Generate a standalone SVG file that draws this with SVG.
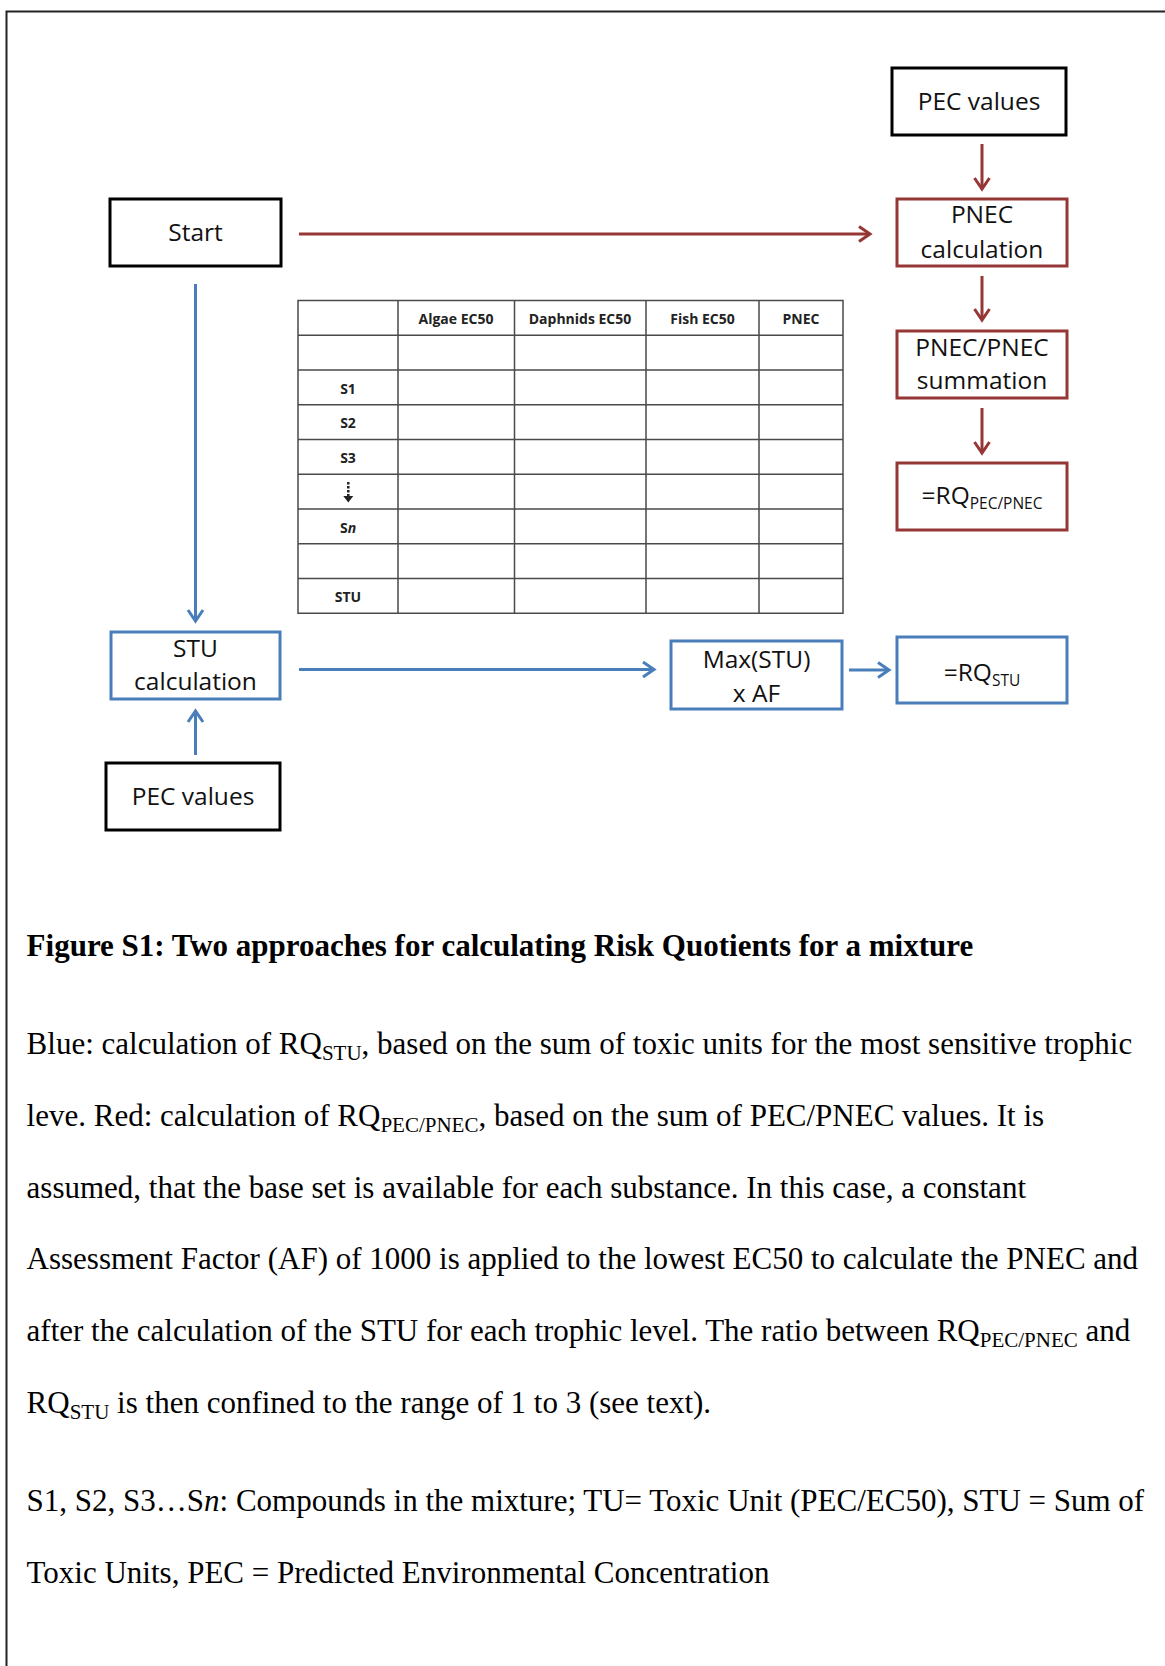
<svg xmlns="http://www.w3.org/2000/svg" width="1165" height="1666" viewBox="0 0 1165 1666">
<style>
.bk{fill:#fff;stroke:#000;stroke-width:3}
.rd{fill:#fff;stroke:#953735;stroke-width:3}
.bl{fill:#fff;stroke:#4A7EBB;stroke-width:3}
.nt{font-family:"Open Sans","Liberation Sans",sans-serif;font-size:24.5px;fill:#111;text-anchor:middle}
.sb{font-size:15.5px}
.tl{stroke:#4a4a4a;stroke-width:1.5;fill:none}
.th{font-family:"Open Sans","Liberation Sans",sans-serif;font-size:14px;font-weight:bold;fill:#222;text-anchor:middle}
.cap{font-family:"Liberation Serif","Times New Roman",serif;font-size:31px;fill:#000}
.rl{stroke:#953735;stroke-width:3;fill:none}
.bll{stroke:#4A7EBB;stroke-width:3;fill:none}
</style>
<defs>
<marker id="ahr" markerUnits="userSpaceOnUse" markerWidth="24" markerHeight="24" viewBox="-14 -12 24 24" refX="0" refY="0" orient="auto" overflow="visible">
<path d="M-11,-7.5 L0,0 L-11,7.5" fill="none" stroke="#953735" stroke-width="3"/>
</marker>
<marker id="ahb" markerUnits="userSpaceOnUse" markerWidth="24" markerHeight="24" viewBox="-14 -12 24 24" refX="0" refY="0" orient="auto" overflow="visible">
<path d="M-11,-7.5 L0,0 L-11,7.5" fill="none" stroke="#4A7EBB" stroke-width="3"/>
</marker>
</defs>
<rect width="1165" height="1666" fill="#fff"/>
<path d="M1165,11.5 H6.5 V1666" fill="none" stroke="#222" stroke-width="2"/>

<g id="connectors">
<path class="rl" d="M982,144 V189" marker-end="url(#ahr)"/>
<path class="rl" d="M299,234 H870" marker-end="url(#ahr)"/>
<path class="rl" d="M982,276 V320" marker-end="url(#ahr)"/>
<path class="rl" d="M982,408 V453" marker-end="url(#ahr)"/>
<path class="bll" d="M195.5,284 V621" marker-end="url(#ahb)"/>
<path class="bll" d="M195.5,755 V711" marker-end="url(#ahb)"/>
<path class="bll" d="M299,669.5 H654" marker-end="url(#ahb)"/>
<path class="bll" d="M849,670 H889" marker-end="url(#ahb)"/>
</g>

<g id="pec-top"><rect class="bk" x="892" y="68" width="174" height="67"/><text class="nt" x="979" y="110">PEC values</text></g>
<g id="start"><rect class="bk" x="110" y="199" width="171" height="67"/><text class="nt" x="195.5" y="241">Start</text></g>
<g id="pnec-calc"><rect class="rd" x="897" y="199" width="170" height="67"/><text class="nt" x="982" y="223">PNEC</text><text class="nt" x="982" y="258">calculation</text></g>
<g id="pnec-sum"><rect class="rd" x="897" y="331" width="170" height="67"/><text class="nt" x="982" y="356">PNEC/PNEC</text><text class="nt" x="982" y="389">summation</text></g>
<g id="rq-pec"><rect class="rd" x="897" y="463" width="170" height="67"/><text class="nt" x="982" y="504">=RQ<tspan class="sb" dy="5">PEC/PNEC</tspan></text></g>
<g id="stu-calc"><rect class="bl" x="111" y="632" width="169" height="67"/><text class="nt" x="195.5" y="657">STU</text><text class="nt" x="195.5" y="690">calculation</text></g>
<g id="pec-bottom"><rect class="bk" x="106" y="763" width="174" height="67"/><text class="nt" x="193" y="805">PEC values</text></g>
<g id="max-stu"><rect class="bl" x="671" y="641" width="171" height="68"/><text class="nt" x="756.5" y="668">Max(STU)</text><text class="nt" x="756.5" y="702">x AF</text></g>
<g id="rq-stu"><rect class="bl" x="897" y="637" width="170" height="66"/><text class="nt" x="982" y="681">=RQ<tspan class="sb" dy="5">STU</tspan></text></g>

<g id="table">
<rect class="tl" x="298" y="300.5" width="545" height="312.75"/>
<path class="tl" d="M398,300.5 V613.25 M514.5,300.5 V613.25 M646,300.5 V613.25 M759,300.5 V613.25"/>
<path class="tl" d="M298,335.25 H843 M298,370 H843 M298,404.75 H843 M298,439.5 H843 M298,474.25 H843 M298,509 H843 M298,543.75 H843 M298,578.5 H843"/>
<text class="th" x="456" y="323.5">Algae EC50</text>
<text class="th" x="580" y="323.5">Daphnids EC50</text>
<text class="th" x="702.5" y="323.5">Fish EC50</text>
<text class="th" x="801" y="323.5">PNEC</text>
<text class="th" x="348" y="393.5">S1</text>
<text class="th" x="348" y="428">S2</text>
<text class="th" x="348" y="463">S3</text>
<path d="M348.3,482 V496" stroke="#222" stroke-width="2.5" stroke-dasharray="2.5,1.5" fill="none"/>
<path d="M343.3,496 H353.3 L348.3,502.5 Z" fill="#222"/>
<text class="th" x="348" y="532.5">S<tspan font-style="italic">n</tspan></text>
<text class="th" x="348" y="602">STU</text>
</g>

<g id="caption">
<text class="cap" x="26.6" y="956" font-weight="bold">Figure S1: Two approaches for calculating Risk Quotients for a mixture</text>
<text class="cap" x="26.6" y="1054">Blue: calculation of RQ<tspan font-size="21" dy="6">STU</tspan><tspan dy="-6">, based on the sum of toxic units for the most sensitive trophic</tspan></text>
<text class="cap" x="26.6" y="1126">leve. Red: calculation of RQ<tspan font-size="21" dy="6">PEC/PNEC</tspan><tspan dy="-6">, based on the sum of PEC/PNEC values. It is</tspan></text>
<text class="cap" x="26.6" y="1197.5">assumed, that the base set is available for each substance. In this case, a constant</text>
<text class="cap" x="26.6" y="1269">Assessment Factor (AF) of 1000 is applied to the lowest EC50 to calculate the PNEC and</text>
<text class="cap" x="26.6" y="1341">after the calculation of the STU for each trophic level. The ratio between RQ<tspan font-size="21" dy="6">PEC/PNEC</tspan><tspan dy="-6"> and</tspan></text>
<text class="cap" x="26.6" y="1412.5">RQ<tspan font-size="21" dy="6">STU</tspan><tspan dy="-6"> is then confined to the range of 1 to 3 (see text).</tspan></text>
<text class="cap" x="26.6" y="1511">S1, S2, S3…S<tspan font-style="italic">n</tspan>: Compounds in the mixture; TU= Toxic Unit (PEC/EC50), STU = Sum of</text>
<text class="cap" x="26.6" y="1583">Toxic Units, PEC = Predicted Environmental Concentration</text>
</g>
</svg>
